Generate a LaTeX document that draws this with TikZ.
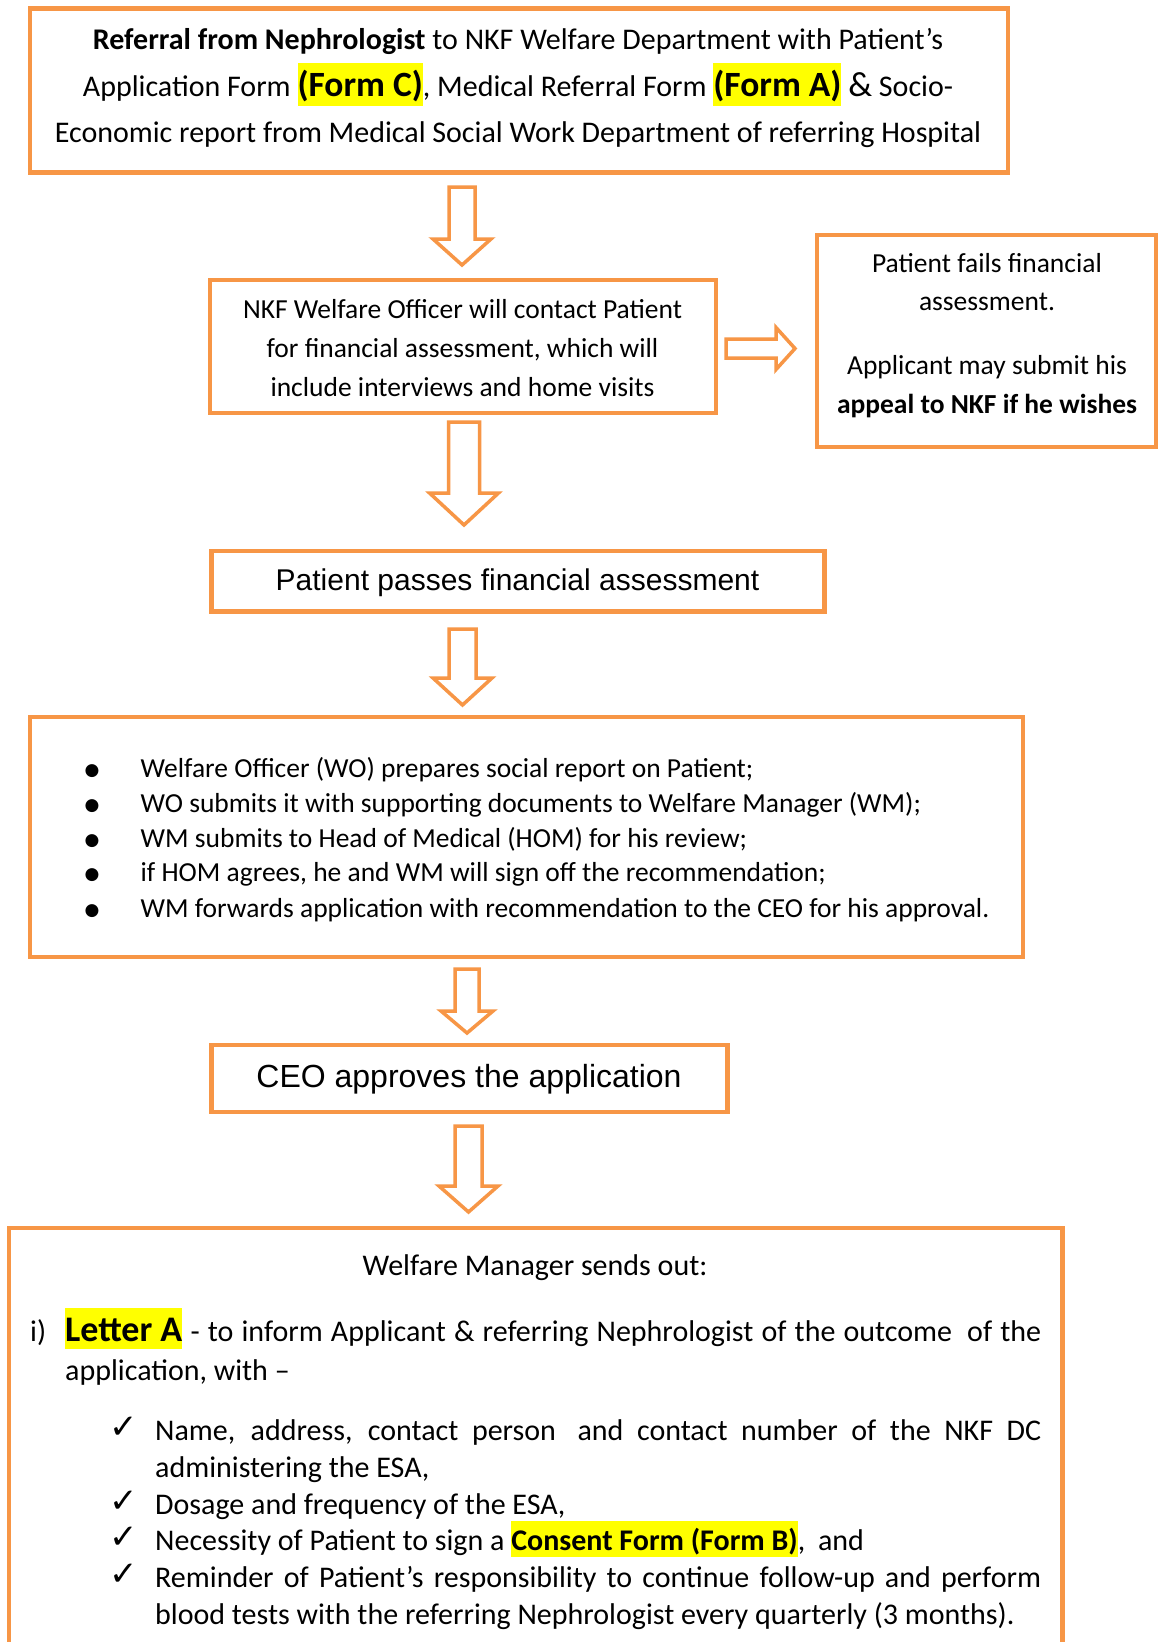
\documentclass[tikz,border=0pt]{standalone}
\usepackage{fontspec}
\setmainfont{Carlito}
\newfontfamily\arialf{Liberation Sans}
\newfontfamily\djv{DejaVu Sans}
\definecolor{nkforange}{HTML}{F79646}
\definecolor{hlyellow}{HTML}{FFFF00}
\newcommand\hlbig[1]{{\setlength\fboxsep{0pt}\colorbox{hlyellow}{\rule[-10pt]{0pt}{43pt}#1}}}
\newcommand\hlmid[3]{{\setlength\fboxsep{0pt}\colorbox{hlyellow}{\rule[-#1]{0pt}{#2}#3}}}
\newcommand\bulitem{\makebox[61pt][l]{\hspace{5pt}\raisebox{2pt}{\djv\fontsize{17}{17}\selectfont ●}}}
\newcommand\dnblk[6]{% cx, top, headstart, tip, shafthalf, headhalf
  \draw[barrow] ({#1-#5},#2) -- ({#1+#5},#2) -- ({#1+#5},#3) -- ({#1+#6},#3)
    -- (#1,#4) -- ({#1-#6},#3) -- ({#1-#5},#3) -- cycle;}
\tikzset{
  x=1pt, y=-1pt,
  box/.style={draw=nkforange, line width=4.5pt, fill=white, inner sep=0pt, rectangle},
  barrow/.style={draw=nkforange, line width=3.5pt, fill=white, line join=miter},
  tx/.style={inner sep=0pt, anchor=base, font=\fontsize{30}{36}\selectfont},
  txs/.style={inner sep=0pt, anchor=base, font=\fontsize{27.5}{33}\selectfont},
  txl/.style={inner sep=0pt, anchor=base west, font=\fontsize{30}{36}\selectfont},
  txsl/.style={inner sep=0pt, anchor=base west, font=\fontsize{27.5}{33}\selectfont},
}
\begin{document}
\begin{tikzpicture}
\useasboundingbox (0,0) rectangle (1160,1642);
\fill[white] (0,0) rectangle (1160,1642);

% ---------- boxes ----------
\node[box, minimum width=978, minimum height=164] (b1) at (519,90.5) {};
\node[box, minimum width=506, minimum height=133] (b2) at (463,346.5) {};
\node[box, minimum width=339, minimum height=212] (b3) at (986.5,341) {};
\node[box, minimum width=613, minimum height=60.5] (b4) at (518,581) {};
\node[box, minimum width=993, minimum height=240] (b5) at (526.5,837) {};
\node[box, minimum width=516, minimum height=67] (b6) at (469.5,1078.5) {};
\node[box, minimum width=1053.5, minimum height=520] (b7) at (535.75,1488) {};

% ---------- block arrows ----------
\dnblk{462}{187}{239}{265}{13}{29}
\dnblk{464}{422}{493}{525}{15.5}{34.5}
\dnblk{462.5}{629}{678}{705}{13.5}{29.5}
\dnblk{467}{969}{1011}{1033}{12}{26}
\dnblk{468.5}{1126}{1186}{1212}{13.5}{29.5}
\draw[barrow] (726,339) -- (776,339) -- (776,327.5) -- (795,348.5) -- (776,369.5) -- (776,358) -- (726,358) -- cycle;

% ---------- box 1 text ----------
\node[tx] (t1a) at (518,49) {\textbf{Referral from Nephrologist} to NKF Welfare Department with Patient's};
\node[tx] (t1b) at (518,96) {Application Form \hlbig{\fontsize{35.5}{40}\selectfont\textbf{(Form C)}}, Medical Referral Form \hlbig{\fontsize{35.5}{40}\selectfont\textbf{(Form A)}} {\fontsize{35}{40}\selectfont\&} Socio-};
\node[tx] (t1c) at (518,142) {Economic report from Medical Social Work Department of referring Hospital};

% ---------- box 2 text ----------
\node[txs] (t2a) at (462.5,318) {NKF Welfare Officer will contact Patient};
\node[txs] (t2b) at (462.5,357) {for financial assessment, which will};
\node[txs] (t2c) at (462.5,396) {include interviews and home visits};

% ---------- box 3 text ----------
\node[txs] (t3a) at (987,272) {Patient fails financial};
\node[txs] (t3b) at (987,310) {assessment.};
\node[txs] (t3c) at (987,374) {Applicant may submit his};
\node[txs] (t3d) at (987,413) {\textbf{appeal to NKF if he wishes}};

% ---------- box 4 / box 6 text ----------
\node[inner sep=0pt, anchor=base, font=\arialf\fontsize{30}{36}\selectfont] (t4) at (517.5,590) {Patient passes financial assessment};
\node[inner sep=0pt, anchor=base, font=\arialf\fontsize{32}{38}\selectfont] (t6) at (469,1087) {CEO approves the application};

% ---------- box 5 text ----------
\node[txsl] (t5a) at (79.5,777) {\bulitem Welfare Officer (WO) prepares social report on Patient;};
\node[txsl] (t5b) at (79.5,812) {\bulitem WO submits it with supporting documents to Welfare Manager (WM);};
\node[txsl] (t5c) at (79.5,847) {\bulitem WM submits to Head of Medical (HOM) for his review;};
\node[txsl] (t5d) at (79.5,881) {\bulitem if HOM agrees, he and WM will sign off the recommendation;};
\node[txsl] (t5e) at (79.5,917) {\bulitem WM forwards application with recommendation to the CEO for his approval.};

% ---------- box 7 text ----------
\node[tx] (t7a) at (535,1275) {Welfare Manager sends out:};
\node[txl] (t7i) at (30,1341) {i)};
\node[txl] (t7b) at (65,1341) {\makebox[976pt][s]{\hlmid{8pt}{41pt}{\fontsize{36}{40}\selectfont\textbf{Letter A}} - to inform Applicant \& referring Nephrologist of the outcome\hspace{7pt} of the}};
\node[txl] (t7c) at (65,1380) {application, with –};
\foreach \yy/\nm in {1440/a,1514/b,1550/c,1587/d}{
  \node[inner sep=0pt, anchor=base west, font=\djv\fontsize{34}{34}\selectfont] (chk\nm) at (109,{\yy-2}) {✓};
}
\node[txl] (t7d) at (155,1440) {\makebox[886pt][s]{Name, address, contact person\hspace{8pt} and contact number of the NKF DC}};
\node[txl] (t7e) at (155,1477) {administering the ESA,};
\node[txl] (t7f) at (155,1514) {Dosage and frequency of the ESA,};
\node[txl] (t7g) at (155,1550) {Necessity of Patient to sign a \hlmid{7pt}{36pt}{\textbf{Consent Form (Form B)}},\hspace{6pt} and};
\node[txl] (t7h) at (155,1587) {\makebox[886pt][s]{Reminder of Patient's responsibility to continue follow-up and perform}};
\node[txl] (t7j) at (155,1624) {blood tests with the referring Nephrologist every quarterly (3 months).};
\end{tikzpicture}
\end{document}
